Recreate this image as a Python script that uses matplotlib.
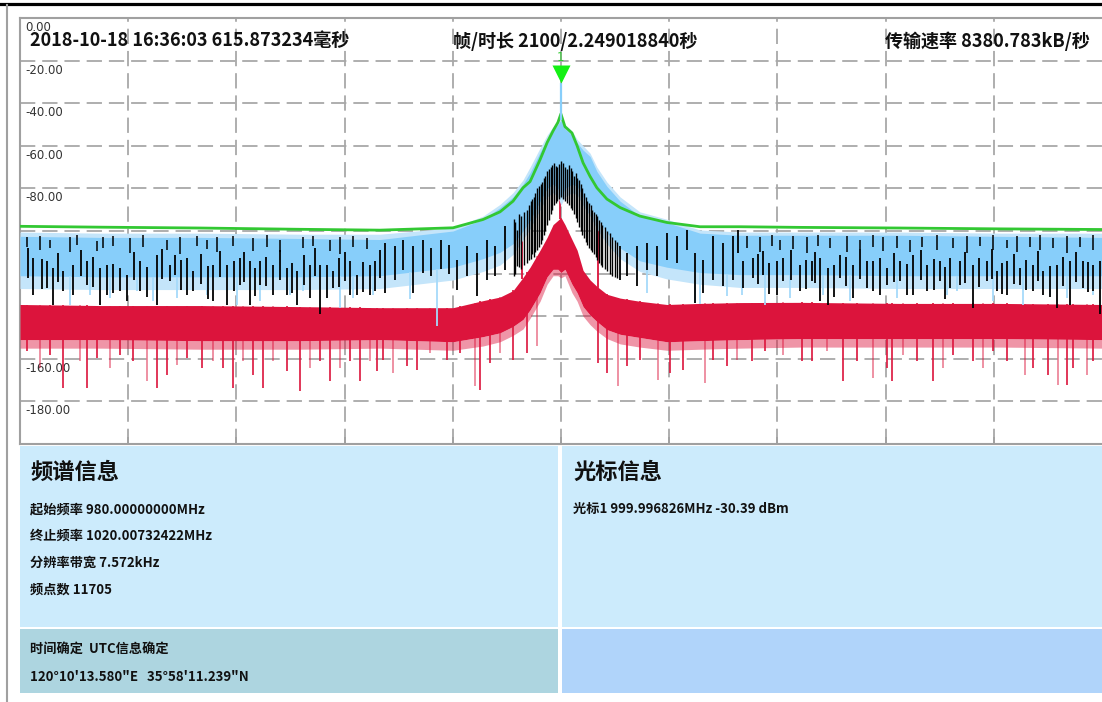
import numpy as np
import matplotlib
matplotlib.use("Agg")
import matplotlib.pyplot as plt
from matplotlib import transforms
from matplotlib.lines import Line2D
from matplotlib.patches import Rectangle

plt.rcParams['lines.scale_dashes'] = False
CJK = ['Noto Sans CJK SC', 'DejaVu Sans']

# ---- header / info values ----
stamp_text = '2018-10-18 16:36:03 615.873234毫秒'
frame_text = '帧/时长 2100/2.249018840秒'
rate_text = '传输速率 8380.783kB/秒'

start_mhz = 980.00000000
stop_mhz = 1020.00732422
rbw_khz = 7.572
n_points = 11705
marker_mhz = 999.996826
marker_dbm = -30.39
time_text = '时间确定  UTC信息确定'
gps_text = '120°10\'13.580"E   35°58\'11.239"N'

y_levels = [0, -20, -40, -60, -80, -100, -120, -140, -160, -180]

# ---- trace envelopes (dBm) on a common frequency grid ----
freq_mhz = [980.0, 982.96, 986.66, 990.35, 993.31, 996.01, 997.12, 997.75, 998.23,
            998.60, 998.86, 999.23, 999.49, 999.71, 999.89, 1000.0, 1000.15, 1000.41,
            1000.60, 1000.82, 1001.08, 1001.33, 1001.70, 1002.19, 1002.92, 1003.92,
            1005.14, 1006.62, 1008.84, 1012.54, 1016.24, 1020.01]
green_max = [-97.8, -98.2, -98.6, -99.2, -99.6, -98.5, -94.6, -91.0, -86.0,
             -79.7, -76.8, -66.5, -58.5, -53.0, -49.0, -45.0, -51.0, -54.0,
             -60.0, -68.0, -74.4, -79.7, -85.0, -89.0, -93.0, -96.0,
             -98.0, -98.0, -98.3, -98.6, -99.0, -99.3]
# dense core of the live trace
blue_top = [-102.5, -103.0, -103.0, -103.5, -104.0, -100.0, -94.6, -89.0, -84.0,
            -78.0, -72.6, -63.0, -57.0, -53.0, -50.0, -48.0, -52.0, -55.0,
            -58.6, -62.0, -65.0, -72.0, -79.0, -86.0, -93.0, -96.0,
            -101.0, -102.0, -102.0, -102.0, -102.5, -103.0]
blue_bot = [-121.0, -121.5, -121.5, -121.5, -121.0, -117.0, -113.0, -110.0, -106.0,
            -100.0, -95.0, -86.0, -80.0, -78.0, -80.0, -85.0, -80.0, -78.0,
            -79.0, -84.0, -88.5, -94.0, -100.8, -108.0, -114.0, -117.0,
            -119.5, -120.5, -120.5, -121.0, -121.0, -121.0]
# sparse outer extent of the live trace
blue_edge_top = [-100.5, -101.0, -101.0, -101.5, -101.5, -98.5, -93.0, -87.5, -82.0,
                 -76.0, -70.0, -61.0, -55.0, -51.0, -48.5, -47.0, -50.0, -53.0,
                 -57.0, -60.0, -63.5, -70.0, -77.0, -84.0, -91.0, -94.5,
                 -99.5, -100.5, -100.5, -100.5, -101.0, -101.0]
blue_edge_bot = [-127.0, -127.5, -127.5, -127.5, -127.0, -123.0, -119.0, -116.0, -111.0,
                 -104.0, -99.0, -90.0, -84.0, -82.0, -84.0, -88.0, -84.0, -82.0,
                 -83.0, -88.0, -93.0, -99.0, -106.0, -113.0, -119.0, -122.5,
                 -125.0, -126.5, -126.5, -127.0, -127.0, -127.0]
red_top = [-134.5, -135.0, -135.0, -135.5, -136.0, -136.0, -132.7, -131.0, -128.0,
           -121.8, -117.0, -109.0, -103.0, -97.0, -95.0, -93.6, -97.0, -104.0,
           -109.0, -118.5, -123.0, -126.0, -129.7, -131.5, -133.0, -134.5,
           -134.0, -133.6, -133.5, -134.0, -134.0, -134.5]
red_bot = [-151.0, -151.0, -151.5, -151.5, -151.0, -152.0, -149.6, -147.8, -144.8,
           -141.5, -137.0, -129.0, -121.5, -118.0, -118.0, -119.5, -118.0, -125.0,
           -129.0, -135.5, -139.5, -142.5, -146.3, -148.5, -150.0, -152.0,
           -151.5, -151.0, -150.5, -150.5, -150.5, -151.0]
red_edge_bot = [-155.0, -155.0, -155.5, -155.5, -155.0, -156.0, -154.0, -152.0, -149.0,
                -146.0, -141.0, -133.0, -125.0, -121.0, -121.0, -122.0, -121.0, -129.0,
                -133.0, -140.0, -144.0, -147.0, -150.5, -153.0, -154.5, -156.0,
                -155.5, -155.0, -154.5, -154.5, -154.5, -155.0]

# ---- individual excursions ----
red_dip_mhz = [980.25, 980.74, 981.11, 981.60, 982.22, 982.47, 982.84, 983.33, 983.70,
               984.19, 984.68, 985.05, 985.42, 985.79, 986.16, 986.72, 987.15, 987.52,
               987.89, 988.26, 988.63, 989.00, 989.37, 989.86, 990.35, 990.72, 991.09,
               991.46, 991.83, 992.20, 992.57, 992.94, 993.19, 993.43, 993.80, 994.30,
               994.67, 995.16, 995.78, 996.27, 996.82, 997.01, 997.38, 997.75, 998.24,
               998.74, 999.11, 1001.38, 1001.69, 1002.12, 1002.43, 1002.92, 1003.60,
               1004.03, 1004.53, 1005.33, 1005.63, 1006.13, 1006.50, 1007.05, 1007.55,
               1008.22, 1008.90, 1009.27, 1009.83, 1010.44, 1010.94, 1011.55, 1012.05,
               1012.23, 1012.66, 1013.15, 1013.77, 1014.14, 1014.51, 1015.25, 1015.62,
               1015.99, 1016.48, 1017.16, 1017.47, 1018.02, 1018.39, 1018.70, 1018.95,
               1019.44, 1019.69]
red_dip_lo = [-156.5, -164.3, -158.0, -173.7, -161.2, -173.7, -159.6, -164.3, -158.0,
              -161.2, -170.6, -173.7, -167.4, -162.7, -159.6, -164.3, -161.2, -164.3,
              -173.7, -161.2, -167.4, -173.7, -161.2, -165.9, -175.2, -164.3, -161.2,
              -170.6, -164.3, -161.2, -170.6, -161.2, -165.9, -160.4, -166.6, -163.5,
              -165.1, -157.2, -160.4, -157.2, -172.9, -174.5, -161.9, -157.2, -160.4,
              -157.2, -154.1, -161.9, -166.6, -172.9, -163.5, -160.4, -169.8,
              -166.6, -165.1, -171.3, -160.4, -163.5, -160.4, -161.2, -156.5,
              -158.0, -161.2, -161.2, -156.5, -170.6, -161.2, -169.0, -164.3,
              -170.6, -158.0, -161.2, -170.6, -164.3, -158.0, -161.2, -164.3,
              -156.5, -161.2, -167.4, -164.3, -167.4, -172.1, -172.1, -164.3,
              -167.4, -161.2]
red_rise_mhz = [998.56, 999.95, 1001.37]
red_rise_hi = [-95.5, -68.0, -97.0]

blue_dip_mhz = [981.85, 982.59, 983.33, 984.31, 984.93, 985.79, 986.90, 988.01, 988.87,
                989.98, 990.48, 991.83, 992.32, 993.06, 994.42, 995.41, 1003.17, 1004.96,
                1005.14, 1006.13, 1006.68, 1007.55, 1008.47, 1009.70, 1010.69, 1012.42,
                1014.26, 1014.63, 1015.99, 1017.10, 1018.08, 1018.70, 1019.69]
blue_dip_lo = [-134.6, -129.9, -131.4, -128.3, -133.0, -131.4, -129.9, -134.6, -133.0,
               -129.9, -128.3, -136.1, -131.4, -129.9, -132.0, -144.7, -129.0, -133.8,
               -134.5, -130.7, -129.9, -134.6, -131.4, -129.9, -133.0, -131.4,
               -129.9, -128.3, -133.0, -134.6, -129.9, -131.4, -129.9]

black_mhz = [980.49, 980.99, 981.23, 981.60, 982.47, 982.96, 983.21, 983.70, 983.95,
             984.44, 985.05, 985.55, 985.73, 986.16, 986.41, 987.15, 987.64, 988.13,
             988.50, 988.87, 989.37, 989.86, 990.23, 990.72, 991.09, 991.58, 992.20,
             992.45, 992.94, 993.13, 993.50, 993.87, 994.17, 994.54, 994.91, 996.15,
             996.52, 996.89, 997.26, 997.56, 997.93,
             998.26, 998.38, 998.51, 998.75, 998.88, 999.00, 999.12, 999.25, 999.37,
             999.50, 999.62, 999.75, 999.87, 999.99, 1000.17, 1000.30, 1000.42,
             1000.54, 1000.67, 1000.79, 1000.91, 1001.04, 1001.16, 1001.28, 1001.41,
             1001.53, 1001.72, 1001.90, 1002.09,
             1002.19, 1002.43, 1002.80, 1003.17, 1003.54, 1003.91, 1004.28, 1004.65,
             1004.96, 1005.27, 1005.63, 1006.00, 1006.37, 1006.56,
             1006.75, 1007.11, 1007.48, 1007.98, 1008.22, 1008.84, 1009.27, 1009.58,
             1009.89, 1010.32, 1010.81, 1011.31, 1011.80, 1012.05, 1012.54, 1013.03,
             1013.53, 1014.02, 1014.39, 1014.76, 1015.25, 1015.74, 1016.11, 1016.48,
             1016.98, 1017.47, 1017.84, 1018.33, 1018.82, 1019.32, 1019.69, 1019.93,
             # second pass of strokes between the first ones
             980.30, 980.80, 981.40, 981.95, 982.25, 982.70, 983.45, 984.20, 984.70,
             985.25, 985.95, 986.70, 986.95, 987.40, 987.90, 988.30, 988.70, 989.10,
             989.60, 990.05, 990.50, 990.90, 991.35, 991.80, 992.00, 992.70, 993.30,
             995.20, 995.55, 995.85,
             998.32, 998.45, 998.63, 998.81, 998.94, 999.06, 999.18, 999.31, 999.43,
             999.56, 999.68, 999.81, 999.93, 1000.08, 1000.23, 1000.36, 1000.48,
             1000.60, 1000.73, 1000.85, 1000.97, 1001.10, 1001.22, 1001.34, 1001.47,
             1001.62, 1001.81, 1001.99,
             1007.30, 1007.70, 1008.50, 1009.05, 1009.40, 1010.10, 1010.55, 1011.05,
             1011.55, 1012.30, 1012.80, 1013.30, 1013.80, 1014.20, 1014.95, 1015.45,
             1015.95, 1016.30, 1016.75, 1017.20, 1017.65, 1018.10, 1018.55, 1019.05,
             1019.50]
black_hi = [-112.6, -114.2, -117.3, -118.9, -114.2, -117.3, -115.8, -117.3, -120.5,
            -114.2, -111.1, -115.8, -111.1, -112.6, -118.9, -115.8, -115.8, -112.6,
            -114.2, -114.2, -115.8, -117.3, -118.9, -115.8, -115.8, -118.9, -114.2,
            -120.5, -115.8, -114.2, -105.6, -107.2, -104.0, -107.2, -104.0, -113.4,
            -107.2, -110.3, -104.0, -107.2, -97.8,
            -94.6, -99.3, -93.0, -90.0, -86.0, -84.0, -80.0, -78.0, -75.0,
            -72.0, -70.0, -68.0, -70.0, -67.0, -70.0, -69.0, -72.0,
            -73.0, -76.0, -80.0, -84.0, -87.0, -90.0, -92.0, -95.0,
            -97.0, -100.0, -103.0, -105.0,
            -107.2, -110.3, -107.2, -105.6, -107.2, -100.9, -102.5, -99.3,
            -110.3, -113.4, -102.5, -105.6, -102.5, -99.3,
            -114.2, -112.6, -109.5, -114.2, -112.6, -115.8, -114.2, -112.6,
            -117.3, -111.1, -115.8, -114.2, -112.6, -117.3, -114.2, -111.1,
            -115.8, -114.2, -112.6, -114.2, -115.8, -114.2, -118.9, -114.2,
            -117.3, -115.8, -118.9, -115.8, -114.2, -114.2, -115.8, -114.2,
            -108.0, -113.0, -110.5, -116.0, -109.0, -112.0, -115.5, -110.0, -117.0,
            -108.5, -113.5, -111.0, -116.5, -109.5, -114.0, -110.0, -117.5, -112.0,
            -109.0, -115.0, -111.5, -108.0, -116.0, -112.5, -110.0, -114.5, -109.0,
            -108.0, -104.0, -106.5,
            -96.0, -92.0, -91.0, -88.0, -85.0, -82.0, -79.0, -77.0, -74.0,
            -71.0, -69.0, -69.5, -68.5, -68.0, -71.0, -70.5, -74.0,
            -75.0, -78.0, -82.0, -86.0, -88.0, -91.0, -93.0, -96.0,
            -98.0, -101.0, -104.0,
            -111.0, -115.0, -109.0, -113.5, -110.0, -116.0, -112.0, -108.5,
            -114.0, -110.5, -115.5, -109.0, -113.0, -117.0, -110.0, -112.5,
            -108.5, -115.0, -111.0, -113.5, -109.5, -116.5, -112.0, -110.0,
            -114.5]
black_lo = [-129.9, -126.7, -134.6, -128.3, -125.2, -134.6, -129.9, -128.3, -133.0,
            -128.3, -134.6, -123.6, -120.5, -129.9, -128.3, -133.0, -134.6, -125.2,
            -134.6, -125.2, -129.9, -129.9, -134.6, -131.4, -139.2, -126.7, -129.9,
            -129.9, -129.9, -128.3, -129.1, -122.8, -118.1, -129.1, -119.7, -127.5,
            -121.3, -130.7, -122.8, -121.3, -118.1,
            -121.3, -116.6, -118.0, -115.0, -113.0, -112.0, -109.0, -106.0, -102.0,
            -97.0, -92.0, -88.0, -86.0, -84.0, -86.0, -88.0, -90.0,
            -94.0, -98.0, -102.0, -105.0, -108.0, -110.0, -112.0, -115.0,
            -117.0, -119.0, -121.0, -122.0,
            -122.8, -121.3, -126.0, -118.1, -121.3, -113.4, -115.0, -108.7,
            -133.8, -129.1, -122.8, -126.0, -122.8, -110.3,
            -126.7, -122.0, -120.5, -129.9, -123.6, -128.3, -123.6, -133.0,
            -134.6, -122.0, -131.4, -126.7, -129.9, -125.2, -123.6, -129.9,
            -128.3, -123.6, -126.7, -125.2, -136.1, -123.6, -128.3, -129.9,
            -125.2, -128.3, -129.9, -136.1, -134.6, -126.7, -128.3, -139.2,
            -122.0, -127.0, -124.0, -130.0, -121.0, -126.5, -129.0, -123.0, -131.0,
            -122.5, -127.5, -125.0, -132.0, -121.5, -128.0, -124.0, -130.5, -126.0,
            -123.0, -129.0, -125.5, -121.0, -131.5, -126.5, -123.5, -128.5, -122.0,
            -121.0, -118.0, -120.0,
            -120.0, -117.0, -116.0, -113.5, -111.0, -110.0, -107.5, -104.0, -100.0,
            -95.0, -90.0, -87.0, -85.0, -85.0, -87.0, -89.0, -92.0,
            -96.0, -100.0, -103.5, -106.5, -109.0, -111.0, -113.5, -116.0,
            -118.0, -120.0, -121.5,
            -125.0, -129.5, -123.0, -127.0, -124.5, -131.0, -126.0, -122.5,
            -128.0, -124.0, -130.0, -123.0, -127.5, -132.0, -124.5, -126.5,
            -122.5, -129.5, -125.0, -127.5, -123.5, -131.0, -126.0, -124.0,
            -128.5]

dash_mhz = [980.25, 980.74, 981.11, 981.85, 982.10, 982.84, 983.08, 983.45, 984.07,
            984.56, 985.42, 985.91, 986.53, 986.90, 987.27, 987.89, 988.63, 989.12,
            989.62, 990.48, 990.85, 991.46, 991.83, 992.32, 992.82,
            1006.87, 1007.36, 1007.79, 1008.10, 1008.59, 1009.09, 1009.52, 1009.95,
            1010.57, 1011.06, 1011.55, 1011.92, 1012.42, 1012.91, 1013.34, 1013.89,
            1014.51, 1015.00, 1015.50, 1015.99, 1016.48, 1016.85, 1017.34, 1017.71,
            1018.21, 1018.70, 1019.19, 1019.69]
dash_hi = [-103.0, -102.5, -104.0, -103.0, -102.0, -104.5, -103.0, -102.5, -103.5,
           -102.0, -104.0, -103.0, -102.5, -104.0, -103.0, -102.5, -103.5, -102.0,
           -104.0, -103.0, -102.5, -104.0, -103.0, -102.5, -103.5,
           -102.5, -103.0, -102.0, -104.0, -102.5, -103.0, -102.0, -103.5,
           -102.5, -104.0, -102.0, -103.0, -102.5, -104.0, -103.0, -102.0,
           -103.5, -102.5, -103.0, -102.0, -104.0, -102.5, -103.0, -102.0,
           -103.5, -102.5, -103.0, -102.0]
dash_lo = [-107.5, -109.0, -108.0, -110.0, -106.5, -109.5, -108.0, -107.0, -110.5,
           -107.5, -109.0, -111.0, -107.0, -108.5, -110.0, -107.0, -109.5, -107.5,
           -110.0, -108.0, -107.0, -109.5, -111.0, -107.5, -108.5,
           -108.0, -110.0, -107.0, -109.0, -108.5, -110.5, -107.0, -108.0,
           -110.0, -108.5, -107.5, -109.5, -108.0, -110.0, -107.5, -109.0,
           -108.0, -110.5, -107.0, -109.0, -108.0, -110.0, -107.5, -109.0,
           -108.0, -110.5, -107.5, -109.0]

# ---- figure ----
W, H = 1102, 702
fig = plt.figure(figsize=(W / 100, H / 100), dpi=100)


def fx(px):
    return px / W


def fy(py):
    return 1 - py / H


ax = fig.add_axes([fx(20), fy(444), fx(1102) - fx(20), fy(18) - fy(444)])
ax.set_xlim(start_mhz, stop_mhz)
ax.set_ylim(-200, 0)
ax.set_yticks([])
div_mhz = [start_mhz + k * (stop_mhz - start_mhz) / 10 for k in range(1, 10)]
ax.set_xticks(div_mhz)
ax.tick_params(axis='x', direction='in', length=5, width=1.2, color='#A0A0A0',
               labelbottom=False)
for side in ['left', 'top', 'bottom']:
    ax.spines[side].set_color('#A0A0A0')
    ax.spines[side].set_linewidth(1.5)
ax.spines['right'].set_visible(False)

grid_col = '#A8A8A8'
ax.vlines(div_mhz, -200, 0, colors=grid_col, linewidth=1.3,
          linestyles=(0, (11, 5)), zorder=1)
ax.hlines(y_levels[1:], start_mhz, stop_mhz, colors=grid_col, linewidth=1.3,
          linestyles=(0, (11, 5)), zorder=1)

lab_tr = transforms.offset_copy(ax.transData, fig=fig, x=5, y=-3, units='dots')
for v in y_levels:
    ax.text(start_mhz, v, f'{v:.2f}', transform=lab_tr, fontsize=8.5,
            color='#333333', va='top', ha='left', zorder=1.5)

# red trace (min hold)
ax.fill_between(freq_mhz, red_edge_bot, red_bot, color='#DC143C', alpha=0.45, lw=0,
                zorder=2.8)
ax.fill_between(freq_mhz, red_bot, red_top, color='#DC143C', lw=0, zorder=3)
red_start = np.interp(red_dip_mhz, freq_mhz, red_top)
for i, (f, s, lo) in enumerate(zip(red_dip_mhz, red_start, red_dip_lo)):
    ax.vlines(f, lo, s, color='#DC143C', lw=1.2, alpha=0.55 if i % 3 == 1 else 1.0,
              zorder=3)
ax.vlines(red_rise_mhz, np.interp(red_rise_mhz, freq_mhz, red_top), red_rise_hi,
          color='#DC143C', lw=1.3, zorder=3)

# blue trace (live)
ax.fill_between(freq_mhz, blue_edge_bot, blue_edge_top, color='#C4E5FA', lw=0, zorder=3.8)
ax.fill_between(freq_mhz, blue_bot, blue_top, color='#87CEFA', lw=0, zorder=4)
ax.vlines(blue_dip_mhz, blue_dip_lo, np.interp(blue_dip_mhz, freq_mhz, blue_bot),
          color='#A6DAFA', lw=1.3, zorder=4)

# black trace (average); strokes are thinner where they crowd round the carrier
black_lw = [1.0 if 998.2 < f < 1002.1 else 1.3 for f in black_mhz]
ax.vlines(black_mhz, black_lo, black_hi, color='black', linewidths=black_lw, zorder=5)
ax.vlines(dash_mhz, dash_lo, dash_hi, color='black', lw=1.1, zorder=5)

# green max hold
ax.plot(freq_mhz, green_max, color='#32C832', lw=2.0, zorder=6)

# marker peak
ax.vlines(marker_mhz, np.interp(marker_mhz, freq_mhz, blue_top), marker_dbm,
          color='#87CEFA', lw=1.6, zorder=6.5)
mk_tr = transforms.offset_copy(ax.transData, fig=fig, x=0, y=9, units='dots')
ax.plot([marker_mhz], [marker_dbm], marker='v', ms=13, color='#14F014', mec='none',
        transform=mk_tr, zorder=7, clip_on=False)
ax.annotate('1', (marker_mhz, marker_dbm), xytext=(0, 18), textcoords='offset points',
            ha='center', va='center', fontsize=8.5, color='#33CC33', zorder=7)

# header
fig.text(fx(30), fy(41), stamp_text, fontsize=13, fontweight='bold', family=CJK,
         va='center', ha='left', color='#111111')
fig.text(fx(453), fy(41), frame_text, fontsize=13, fontweight='bold', family=CJK,
         va='center', ha='left', color='#111111')
fig.text(fx(1090), fy(41), rate_text, fontsize=13, fontweight='bold', family=CJK,
         va='center', ha='right', color='#111111')

# window frame
fig.add_artist(Line2D([0, 1], [fy(3.5), fy(3.5)], color='black', lw=2.3,
                      transform=fig.transFigure))
fig.add_artist(Line2D([fx(7), fx(7)], [fy(5), 0], color='#A0A0A0', lw=1.5,
                      transform=fig.transFigure))


# info panels
def panel(x0, y0, x1, y1, col):
    fig.add_artist(Rectangle((fx(x0), fy(y1)), fx(x1) - fx(x0), fy(y0) - fy(y1),
                             transform=fig.transFigure, color=col, lw=0))


panel(20, 446, 558, 627, '#CCEBFC')
panel(20, 629, 558, 693, '#ADD5E0')
panel(562, 446, 1102, 627, '#CCEBFC')
panel(562, 629, 1102, 693, '#B0D4FA')

spec_lines = [f'起始频率 {start_mhz:.8f}MHz', f'终止频率 {stop_mhz:.8f}MHz',
              f'分辨率带宽 {rbw_khz}kHz', f'频点数 {n_points}']
marker_line = f'光标1 {marker_mhz:.6f}MHz {marker_dbm:.2f} dBm'

fig.text(fx(30), fy(472), '频谱信息', fontsize=16, fontweight='bold', family=CJK,
         va='center', color='#111111')
for i, s in enumerate(spec_lines):
    fig.text(fx(30), fy(509 + 27 * i), s, fontsize=9.5, fontweight='bold', family=CJK,
             va='center', color='#111111')
fig.text(fx(573), fy(472), '光标信息', fontsize=16, fontweight='bold', family=CJK,
         va='center', color='#111111')
fig.text(fx(573), fy(509), marker_line, fontsize=9.5, fontweight='bold', family=CJK,
         va='center', color='#111111')
fig.text(fx(30), fy(649), time_text, fontsize=9.5, fontweight='bold', family=CJK,
         va='center', color='#111111')
fig.text(fx(30), fy(677), gps_text, fontsize=9.5, fontweight='bold', family=CJK,
         va='center', color='#111111')

fig.savefig('out.png', dpi=100)
